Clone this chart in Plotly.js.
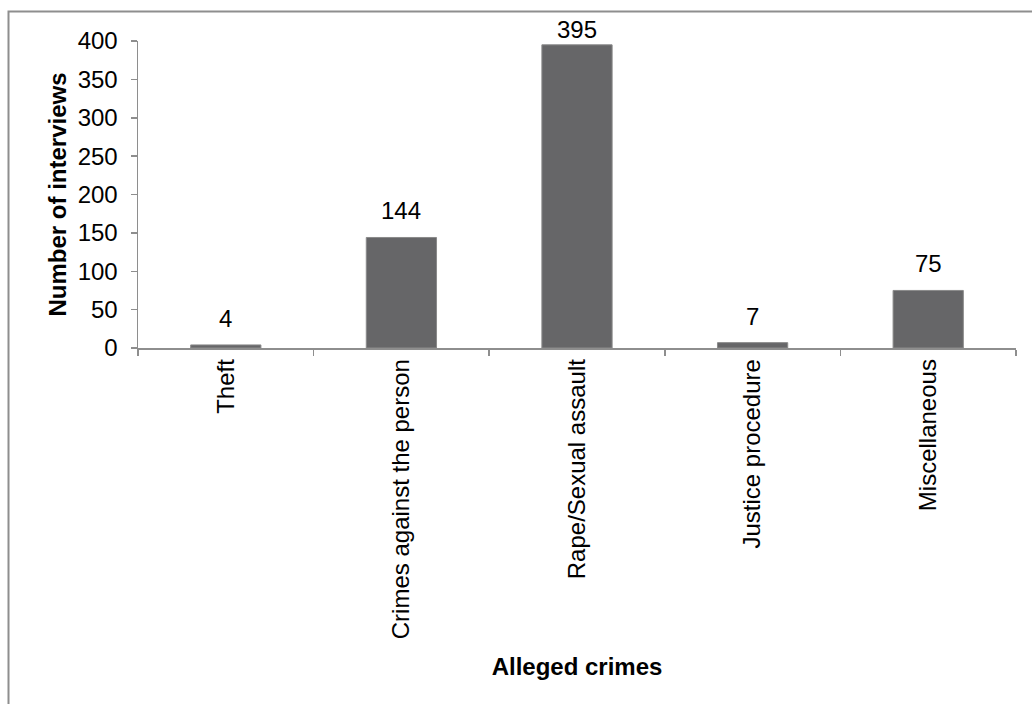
<!DOCTYPE html>
<html>
<head>
<meta charset="utf-8">
<script src="https://cdn.plot.ly/plotly-3.0.1.min.js"></script>
<style>
  html, body { margin: 0; padding: 0; background: #ffffff; }
  #chart { width: 1032px; height: 704px; }
</style>
</head>
<body>
<div id="chart"></div>
<script>
// Interviews by alleged crime
const categories = [
  "Theft",
  "Crimes against the person",
  "Rape/Sexual assault",
  "Justice procedure",
  "Miscellaneous"
];
const interviews = [4, 144, 395, 7, 75];
const yTickValues = [0, 50, 100, 150, 200, 250, 300, 350, 400];
const yMax = 400;

const FONT = "'Liberation Sans', Arial, sans-serif";
const AXIS_GREY = "#8e8e8e";
const BAR_GREY = "#666668";

// plot-area geometry in pixels
const W = 1032, H = 704;
const M = { l: 138, r: 16, t: 41, b: 356 };
const PW = W - M.l - M.r, PH = H - M.t - M.b;
const px2paperX = (px) => (px - M.l) / PW;
const px2paperY = (py) => (H - M.b - py) / PH;

// value labels above each bar; a label near the top of the axis sits closer to its bar
const labels = categories.map((c, i) => ({
  x: c,
  y: interviews[i],
  xref: "x",
  yref: "y",
  text: String(interviews[i]),
  showarrow: false,
  yanchor: "bottom",
  yshift: interviews[i] > 0.95 * yMax ? 0 : 11,
  font: { family: FONT, size: 24, color: "#000000" }
}));

const trace = {
  type: "bar",
  x: categories,
  y: interviews,
  marker: { color: BAR_GREY, line: { color: "#8a8a8a", width: 1 } },
  hoverinfo: "x+y"
};

const layout = {
  width: W,
  height: H,
  margin: M,
  paper_bgcolor: "#ffffff",
  plot_bgcolor: "#ffffff",
  showlegend: false,
  bargap: 0.6,
  font: { family: FONT, size: 24, color: "#000000" },
  xaxis: {
    type: "category",
    showline: true,
    linecolor: AXIS_GREY,
    linewidth: 1.5,
    ticks: "outside",
    tickson: "boundaries",
    ticklen: 6,
    tickcolor: AXIS_GREY,
    tickwidth: 1.5,
    tickangle: -90,
    showgrid: false,
    zeroline: false,
    automargin: false,
    tickfont: { family: FONT, size: 24, color: "#000000" },
    title: {
      text: "<b>Alleged crimes</b>",
      font: { family: FONT, size: 24, color: "#000000" },
      standoff: 20
    }
  },
  yaxis: {
    range: [0, yMax],
    tickvals: yTickValues,
    showline: true,
    linecolor: AXIS_GREY,
    linewidth: 1.5,
    ticks: "outside",
    ticklen: 6,
    tickcolor: AXIS_GREY,
    tickwidth: 1.5,
    showgrid: false,
    zeroline: false,
    automargin: false,
    ticklabelstandoff: 8,
    tickfont: { family: FONT, size: 24, color: "#000000" },
    title: {
      text: "<b>Number of interviews</b>",
      font: { family: FONT, size: 24, color: "#000000" },
      standoff: 4
    }
  },
  annotations: labels,
  shapes: [{
    type: "rect",
    xref: "paper",
    yref: "paper",
    x0: px2paperX(8.5),
    x1: px2paperX(W + 20),
    y0: px2paperY(H + 20),
    y1: px2paperY(11.5),
    line: { color: AXIS_GREY, width: 2 },
    fillcolor: "rgba(0,0,0,0)",
    layer: "below"
  }]
};

Plotly.newPlot("chart", [trace], layout, { displayModeBar: false, staticPlot: true });
</script>
</body>
</html>
